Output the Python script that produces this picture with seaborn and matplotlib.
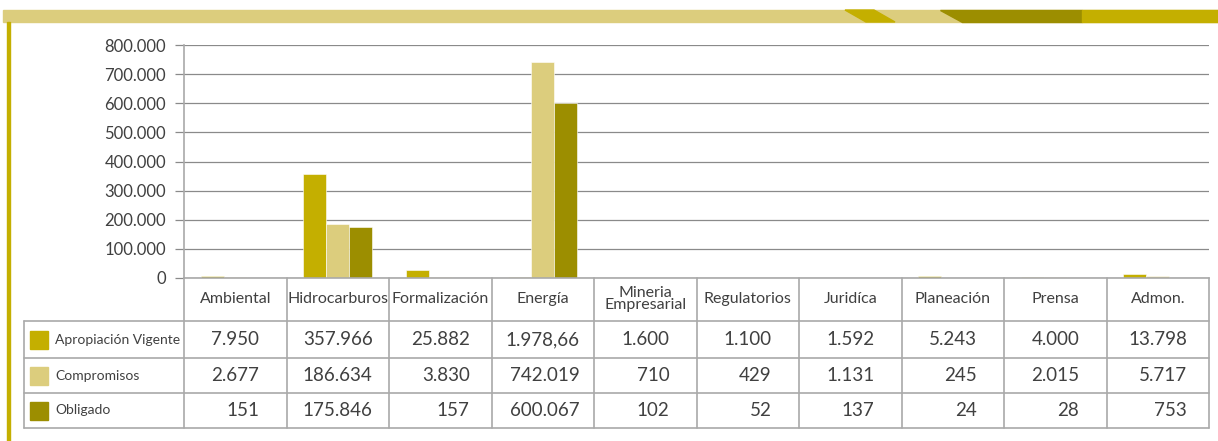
import numpy as np
import pandas as pd
import seaborn as sns
import matplotlib
matplotlib.use("Agg")
import matplotlib.pyplot as plt
from matplotlib.patches import Rectangle, Polygon
from matplotlib.ticker import FuncFormatter

# datos
categorias = ["Ambiental", "Hidrocarburos", "Formalización", "Energía", "Mineria\nEmpresarial",
              "Regulatorios", "Juridíca", "Planeación", "Prensa", "Admon."]
series = ["Apropiación Vigente", "Compromisos", "Obligado"]
apropiacion = [7950, 357966, 25882, 1978.66, 1600, 1100, 1592, 5243, 4000, 13798]
compromisos = [2677, 186634, 3830, 742019, 710, 429, 1131, 245, 2015, 5717]
obligado = [151, 175846, 157, 600067, 102, 52, 137, 24, 28, 753]
colores = ["#C4AF00", "#DCCD7D", "#9C8E00"]


def miles(v):
    # formato con punto de miles y coma decimal
    if float(v).is_integer():
        return f"{int(v):,}".replace(",", ".")
    s = f"{v:,.2f}"
    return s.replace(",", "X").replace(".", ",").replace("X", ".")


df = pd.DataFrame({"categoria": categorias * 3,
                   "serie": np.repeat(series, len(categorias)),
                   "valor": apropiacion + compromisos + obligado})

sns.set_theme(style="white")
plt.rcParams["font.family"] = ["Lato", "DejaVu Sans"]
gris = "#404040"
linea = "#a9a9a9"

W, H = 1218, 441
fig = plt.figure(figsize=(W / 100, H / 100), dpi=100)


def px(x0, y0, x1, y1):  # caja en pixeles (desde arriba) -> fraccion de figura
    return [x0 / W, 1 - y1 / H, (x1 - x0) / W, (y1 - y0) / H]


def fp(x, y):
    return (x / W, 1 - y / H)


# banda decorativa superior y linea lateral
fig.patches.append(Rectangle(fp(3, 22), 1215 / W, 12 / H, color="#DCCD7D", transform=fig.transFigure))
fig.patches.append(Polygon([fp(845, 10), fp(874, 10), fp(895, 22), fp(866, 22)], color="#C4AF00",
                           transform=fig.transFigure))
fig.patches.append(Polygon([fp(940, 10), fp(1082, 10), fp(1082, 22), fp(962, 22)], color="#9C8E00",
                           transform=fig.transFigure))
fig.patches.append(Rectangle(fp(1082, 22), 136 / W, 12 / H, color="#C4AF00", transform=fig.transFigure))
fig.patches.append(Rectangle(fp(7, 441), 2.6 / W, 419 / H, color="#C4AF00", transform=fig.transFigure))

# grafico de barras
x_ini, x_fin, y_top, y_base, y_tab = 184, 1209, 45, 278, 428
ax = fig.add_axes(px(x_ini, y_top, x_fin, y_base))
sns.barplot(data=df, x="categoria", y="valor", hue="serie", hue_order=series, palette=colores,
            width=0.67, saturation=1, edgecolor="white", linewidth=0.4, legend=False, ax=ax)
ax.set_ylim(0, 800000)
ax.set_xlim(-0.5, 9.5)
ax.set_yticks(range(0, 800001, 100000))
ax.yaxis.set_major_formatter(FuncFormatter(lambda v, p: miles(v)))
ax.set_xticks([])
ax.set_xlabel("")
ax.set_ylabel("")
ax.grid(axis="y", color="#8a8a8a", lw=0.9)
ax.set_axisbelow(True)
ax.tick_params(axis="y", left=True, length=6.5, width=0.9, color="#8a8a8a", pad=6.5,
               labelsize=12, labelcolor=gris)
for s in ["top", "right"]:
    ax.spines[s].set_visible(False)
for s in ["left", "bottom"]:
    ax.spines[s].set_color(linea)
    ax.spines[s].set_linewidth(1.2)

# tabla de datos
tax = fig.add_axes(px(24, y_base, x_fin, y_tab))
tax.axis("off")
ancho = (x_fin - x_ini) / 10
izq = -0.5 - (x_ini - 24) / ancho
tax.set_xlim(izq, 9.5)
tax.set_ylim(150, 0)
filas = [0, 43, 80, 115, 150]
for k in range(11):
    tax.plot([k - 0.5, k - 0.5], [0, 150], color=linea, lw=1.2, clip_on=False)
tax.plot([izq, izq], [filas[1], 150], color=linea, lw=1.2, clip_on=False)
for yy in filas[1:]:
    tax.plot([izq, 9.5], [yy, yy], color=linea, lw=1.2, clip_on=False)

for j, c in enumerate(categorias):
    tax.text(j, 21, c, ha="center", va="center", fontsize=11.5, color=gris, linespacing=0.8)

renderer = fig.canvas.get_renderer()
valores = [apropiacion, compromisos, obligado]
for j in range(len(categorias)):
    textos = [miles(v[j]) for v in valores]
    anchos = []
    for t in textos:
        tmp = tax.text(0, 0, t, fontsize=13.5)
        anchos.append(tmp.get_window_extent(renderer).width)
        tmp.remove()
    x_der = j + max(anchos) / 2 / ancho
    for i, t in enumerate(textos):
        ymid = (filas[i + 1] + filas[i + 2]) / 2
        tax.text(x_der, ymid, t, ha="right", va="center", fontsize=13.5, color=gris)

for i, s in enumerate(series):
    ymid = (filas[i + 1] + filas[i + 2]) / 2
    tax.add_patch(Rectangle((izq + 6 / ancho, ymid - 9), 18 / ancho, 18, color=colores[i], clip_on=False))
    tax.text(izq + 31 / ancho, ymid, s, ha="left", va="center", fontsize=10, color=gris)

fig.savefig("out.png", dpi=100)
